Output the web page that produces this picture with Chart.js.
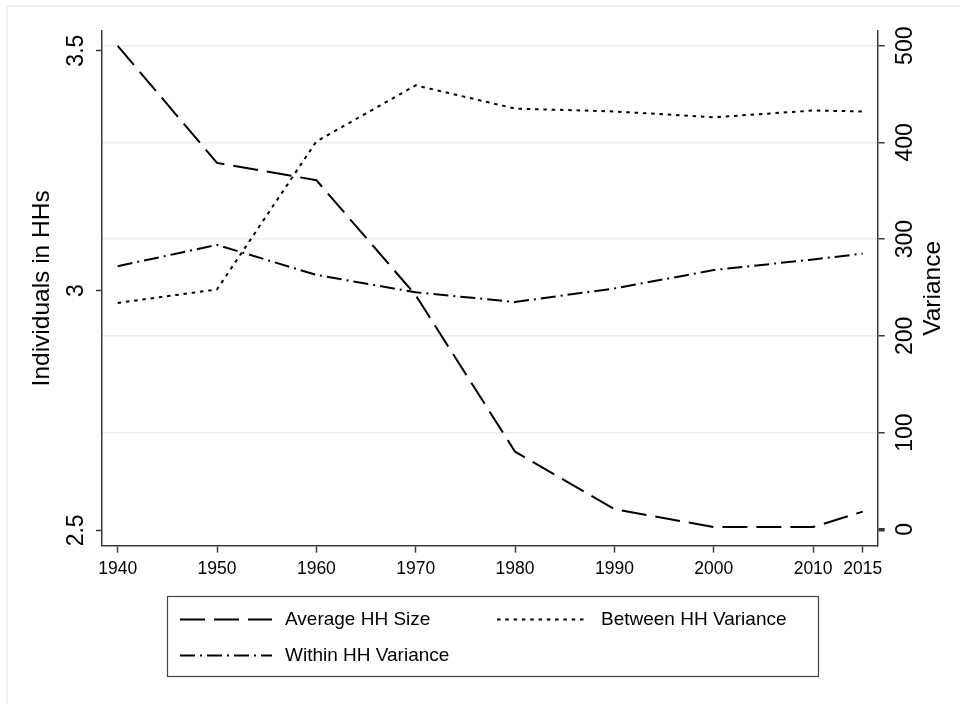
<!DOCTYPE html>
<html>
<head>
<meta charset="utf-8">
<script src="https://cdn.jsdelivr.net/npm/chart.js@4/dist/chart.umd.min.js"></script>
<style>
  html, body { margin: 0; padding: 0; background: #fff; }
  canvas { display: block; }
</style>
</head>
<body>
<canvas id="chart" width="961" height="704"></canvas>
<script>
// Census years on the horizontal axis
const years = [1940, 1950, 1960, 1970, 1980, 1990, 2000, 2010, 2015];
// Average household size (left axis, individuals per household)
const avgHHSize = [3.51, 3.266, 3.23, 2.99, 2.664, 2.544, 2.507, 2.507, 2.539];
// Variance components (right axis)
const betweenHHVariance = [234, 248, 401, 459, 435, 432, 426, 433, 432];
const withinHHVariance = [272, 294, 263, 245, 235, 249, 268, 279, 285];

// Tick values
const xTicks = [1940, 1950, 1960, 1970, 1980, 1990, 2000, 2010, 2015];
const leftTicks = [2.5, 3, 3.5];
const rightTicks = [0, 100, 200, 300, 400, 500];

const FONT = '"Liberation Sans", Arial, Helvetica, sans-serif';
const AXIS = '#3a3a3a';
const GRID = '#e6edf0';

const toPoints = vals => years.map((yr, i) => ({ x: yr, y: vals[i] }));

// Axis labels, titles, outer frame and the boxed legend
const decorations = {
  id: 'decorations',
  beforeDraw(chart) {
    const ctx = chart.ctx;
    ctx.save();
    ctx.fillStyle = '#fff';
    ctx.fillRect(0, 0, chart.width, chart.height);
    ctx.strokeStyle = GRID;
    ctx.lineWidth = 1.5;
    ctx.beginPath();
    ctx.moveTo(7, chart.height);
    ctx.lineTo(7, 6);
    ctx.lineTo(chart.width, 6);
    ctx.stroke();
    ctx.restore();
  },
  afterDraw(chart) {
    const ctx = chart.ctx;
    const area = chart.chartArea;
    const yL = chart.scales.yL;
    const yR = chart.scales.yR;
    const midY = (area.top + area.bottom) / 2;

    const vText = (txt, x, y) => {
      ctx.save();
      ctx.translate(x, y);
      ctx.rotate(-Math.PI / 2);
      ctx.fillText(txt, 0, 0);
      ctx.restore();
    };

    ctx.save();
    ctx.fillStyle = '#000';
    ctx.textAlign = 'center';
    ctx.textBaseline = 'alphabetic';

    // rotated tick labels
    ctx.font = '23px ' + FONT;
    leftTicks.forEach(v => vText(String(v), area.left - 19, yL.getPixelForValue(v)));
    rightTicks.forEach(v => vText(String(v), area.right + 34, yR.getPixelForValue(v)));

    // axis titles
    ctx.font = '24.5px ' + FONT;
    vText('Individuals in HHs', 49, midY);
    vText('Variance', 940, midY);

    // legend box
    ctx.strokeStyle = '#444';
    ctx.lineWidth = 1.2;
    ctx.strokeRect(167.5, 596.5, 651, 80);

    const slots = [
      { x0: 180, x1: 272, tx: 285, y: 619.5 },
      { x0: 497, x1: 587, tx: 601, y: 619.5 },
      { x0: 180, x1: 272, tx: 285, y: 655.5 }
    ];
    ctx.font = '19px ' + FONT;
    ctx.textAlign = 'left';
    ctx.textBaseline = 'middle';
    chart.data.datasets.forEach((ds, i) => {
      const s = slots[i];
      ctx.save();
      ctx.strokeStyle = ds.borderColor;
      ctx.lineWidth = ds.borderWidth;
      ctx.setLineDash(ds.borderDash);
      ctx.beginPath();
      ctx.moveTo(s.x0, s.y);
      ctx.lineTo(s.x1, s.y);
      ctx.stroke();
      ctx.restore();
      ctx.fillText(ds.label, s.tx, s.y);
    });
    ctx.restore();
  }
};

new Chart(document.getElementById('chart'), {
  type: 'line',
  data: {
    datasets: [
      {
        label: 'Average HH Size',
        data: toPoints(avgHHSize),
        yAxisID: 'yL',
        borderColor: '#000',
        borderWidth: 2,
        borderDash: [25, 9],
        pointRadius: 0,
        tension: 0,
        fill: false
      },
      {
        label: 'Between HH Variance',
        data: toPoints(betweenHHVariance),
        yAxisID: 'yR',
        borderColor: '#000',
        borderWidth: 2,
        borderDash: [3.5, 4.8],
        pointRadius: 0,
        tension: 0,
        fill: false
      },
      {
        label: 'Within HH Variance',
        data: toPoints(withinHHVariance),
        yAxisID: 'yR',
        borderColor: '#000',
        borderWidth: 2,
        borderDash: [15, 5, 2, 5],
        pointRadius: 0,
        tension: 0,
        fill: false
      }
    ]
  },
  options: {
    responsive: false,
    animation: false,
    devicePixelRatio: 1,
    layout: { padding: { top: 31, left: 0, right: 0, bottom: 0 } },
    plugins: { legend: { display: false }, tooltip: { enabled: false } },
    scales: {
      x: {
        type: 'linear',
        position: 'bottom',
        min: 1938.42,
        max: 2016.5,
        afterBuildTicks: s => { s.ticks = xTicks.map(v => ({ value: v })); },
        afterFit: s => { s.height = 704 - 545.7; },
        ticks: {
          autoSkip: false,
          maxRotation: 0,
          padding: 6,
          color: '#000',
          font: { family: FONT, size: 17.5 },
          callback: v => String(v)
        },
        grid: { drawOnChartArea: false, drawTicks: true, tickLength: 7, tickColor: AXIS, tickWidth: 1.5 },
        border: { display: true, color: AXIS, width: 1.5 }
      },
      yL: {
        type: 'linear',
        position: 'left',
        min: 2.468,
        max: 3.541,
        afterBuildTicks: s => { s.ticks = leftTicks.map(v => ({ value: v })); },
        afterFit: s => { s.width = 102; },
        ticks: { display: false },
        grid: { drawOnChartArea: false, drawTicks: true, tickLength: 6, tickColor: AXIS, tickWidth: 1.5 },
        border: { display: true, color: AXIS, width: 1.5 }
      },
      yR: {
        type: 'linear',
        position: 'right',
        min: -17,
        max: 515.2,
        afterBuildTicks: s => { s.ticks = rightTicks.map(v => ({ value: v })); },
        afterFit: s => { s.width = 961 - 877.7; },
        ticks: { display: false },
        grid: {
          drawOnChartArea: true,
          drawTicks: true,
          tickLength: 7,
          color: c => (c.tick && c.tick.value === 0 ? 'rgba(0,0,0,0)' : GRID),
          lineWidth: 1.5,
          tickColor: AXIS,
          tickWidth: c => (c.tick && c.tick.value === 0 ? 3.5 : 1.5)
        },
        border: { display: true, color: AXIS, width: 1.5 }
      }
    }
  },
  plugins: [decorations]
});
</script>
</body>
</html>
